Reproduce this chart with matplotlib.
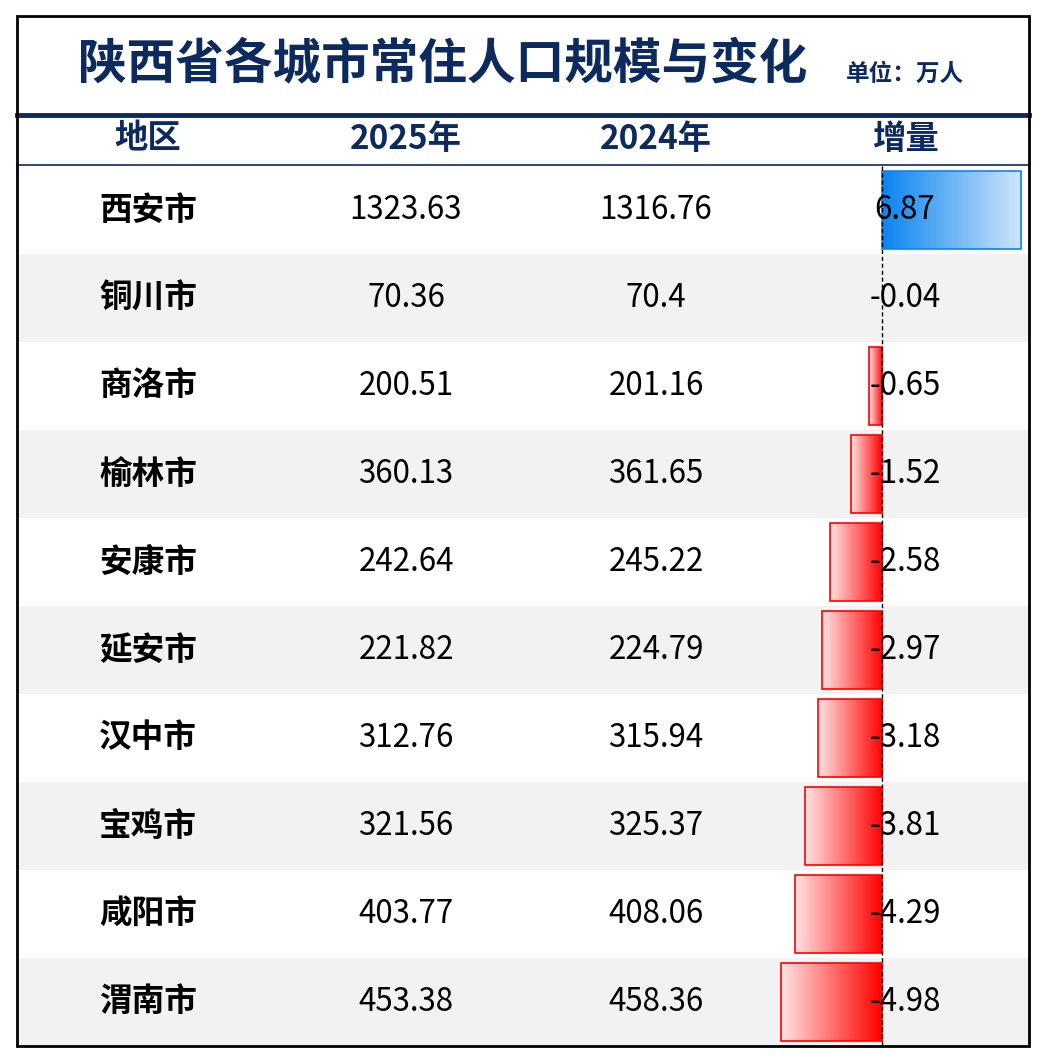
import matplotlib
matplotlib.use("Agg")
import matplotlib.pyplot as plt
import numpy as np
from matplotlib.patches import Rectangle
from matplotlib.colors import LinearSegmentedColormap

plt.rcParams['font.family'] = ['Noto Sans CJK SC', 'DejaVu Sans']

regions = ["西安市", "铜川市", "商洛市", "榆林市", "安康市", "延安市", "汉中市", "宝鸡市", "咸阳市", "渭南市"]
pop_2025 = [1323.63, 70.36, 200.51, 360.13, 242.64, 221.82, 312.76, 321.56, 403.77, 453.38]
pop_2024 = [1316.76, 70.4, 201.16, 361.65, 245.22, 224.79, 315.94, 325.37, 408.06, 458.36]
change = [6.87, -0.04, -0.65, -1.52, -2.58, -2.97, -3.18, -3.81, -4.29, -4.98]
headers = ["地区", "2025年", "2024年", "增量"]
title = "陕西省各城市常住人口规模与变化"
unit = "单位：万人"

W, H = 1046, 1062
fig = plt.figure(figsize=(W / 100, H / 100), dpi=100)
ax = fig.add_axes([0, 0, 1, 1])
ax.set_xlim(0, W)
ax.set_ylim(H, 0)
ax.axis("off")

navy = "#0d2a5e"
left, right, top, bottom = 17, 1029, 16, 1046
row_top, row_h = 166, 88
col_x = [148, 406, 656, 905]
zero_x, scale = 882, 20.25

for i in range(len(regions)):
    y0 = row_top + i * row_h
    if i % 2 == 1:
        ax.add_patch(Rectangle((left, y0), right - left, row_h, facecolor="#f2f2f2", edgecolor="none", zorder=0))

blue_cmap = LinearSegmentedColormap.from_list("b", ["#0a84f0", "#cfe6fb"])
red_cmap = LinearSegmentedColormap.from_list("r", ["#ffe3e3", "#ff0000"])
grad = np.linspace(0, 1, 256).reshape(1, -1)

for i, (r, a, b, c) in enumerate(zip(regions, pop_2025, pop_2024, change)):
    yc = row_top + i * row_h + row_h / 2
    x0, x1 = sorted([zero_x, zero_x + c * scale])
    by0, by1 = yc - 39, yc + 39
    cmap = blue_cmap if c >= 0 else red_cmap
    ec = "#0a84f0" if c >= 0 else "#ff0000"
    if x1 - x0 > 2:
        im = ax.imshow(grad, cmap=cmap, extent=(x0, x1, by1, by0), aspect="auto", zorder=1)
        rect = Rectangle((x0, by0), x1 - x0, by1 - by0, facecolor="none", edgecolor=ec, lw=1.2, zorder=2)
        ax.add_patch(rect)
        im.set_clip_path(rect)
    ax.text(col_x[0], yc, r, ha="center", va="center", fontsize=23.5, fontweight="bold", color="black", zorder=3)
    ax.text(col_x[1], yc, f"{a:g}", ha="center", va="center", fontsize=22.5, color="black", zorder=3)
    ax.text(col_x[2], yc, f"{b:g}", ha="center", va="center", fontsize=22.5, color="black", zorder=3)
    ax.text(col_x[3], yc, f"{c:g}", ha="center", va="center", fontsize=22.5, color="black", zorder=3)

ax.plot([zero_x, zero_x], [row_top, bottom], color="black", lw=1, ls=(0, (3, 2)), zorder=4)

for x, h in zip(col_x, headers):
    ax.text(x, 139, h, ha="center", va="center", fontsize=24, fontweight="bold", color=navy)

ax.plot([left, right], [115, 115], color=navy, lw=3.5)
ax.plot([left, right], [165, 165], color=navy, lw=1.2)

ax.text(443, 64, title, ha="center", va="center", fontsize=35, fontweight="bold", color=navy)
ax.text(905, 74, unit, ha="center", va="center", fontsize=17, fontweight="bold", color=navy)

ax.add_patch(Rectangle((left, top), right - left, bottom - top, facecolor="none", edgecolor="black", lw=2, zorder=5))

fig.savefig("out.png", dpi=100)
